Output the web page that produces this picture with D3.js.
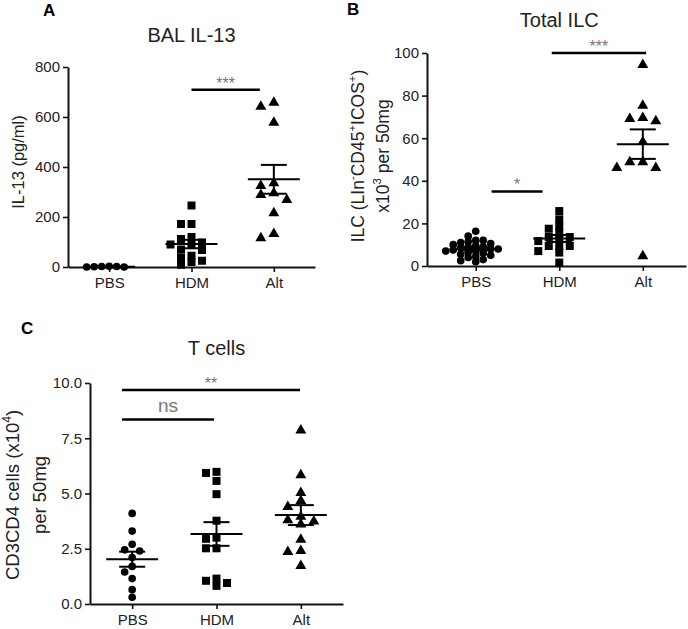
<!DOCTYPE html>
<html>
<head>
<meta charset="utf-8">
<style>
  body { margin: 0; background: #fff; }
  svg text { font-family: "Liberation Sans", Arial, sans-serif; }
</style>
</head>
<body>
<div id="fig"></div>
<script src="https://cdn.jsdelivr.net/npm/d3@7/dist/d3.min.js"></script>
<script>
// groups on every x axis
var categories = ["PBS", "HDM", "Alt"];

// A - BAL IL-13 (pg/ml)
var il13PBS = [2, 0, 3, 1, 0, 2];
var il13HDM = [246, 172, 172, 120, 112, 98, 92, 90, 70, 68, 45, 38, 25, 20, 9];
var il13Alt = [658, 642, 578, 336, 325, 296, 289, 269, 216, 133, 116];
var il13Ticks = [0, 200, 400, 600, 800];

// B - total ILC (x10^3 per 50mg)
var ilcPBS = [16.3, 14, 12, 12, 11.5, 11, 10.5, 10, 9.5, 9, 9, 8.5, 8, 8, 7.5, 7, 7, 6.5, 6, 5.5, 5, 4.5, 4, 3, 2.5, 2];
var ilcHDM = [25.8, 21.9, 18.8, 17.5, 15.6, 13.6, 13.6, 12.5, 11.7, 9.4, 9.4, 9.4, 7, 6.3, 1.6];
var ilcAlt = [94.5, 75.3, 69.6, 69.1, 68, 58.3, 48.8, 48.8, 46.1, 46.1, 4.7];
var ilcTicks = [0, 20, 40, 60, 80, 100];

// C - CD3CD4 T cells (x10^4 per 50mg)
var tcellPBS = [4.1, 3.3, 2.7, 2.45, 2.4, 2.1, 1.7, 1.45, 1.15, 0.65, 0.3];
var tcellHDM = [5.98, 5.93, 5.57, 4.97, 3.77, 3.0, 2.95, 2.52, 2.52, 1.15, 1.05, 0.95, 0.82];
var tcellAlt = [7.86, 5.83, 5.03, 4.67, 4.4, 3.95, 3.8, 3.74, 3.6, 2.92, 2.41, 2.36, 1.73];
var tcellTicks = [0, 2.5, 5, 7.5, 10];

// significance bars, ends given in group units (0 = PBS, 1 = HDM, 2 = Alt)
var il13Sig = [{from: 1, to: 1.83, value: 709, label: "***"}];
var ilcSig = [{from: 0.19, to: 0.8, value: 35, label: "*"},
              {from: 0.91, to: 2.04, value: 100, label: "***"}];
var tcellSig = [{from: -0.12, to: 0.97, value: 8.35, label: "ns"},
                {from: -0.12, to: 1.99, value: 9.68, label: "**"}];

var svg = d3.select("#fig").append("svg")
    .attr("width", 688)
    .attr("height", 629);

// one marker type per group, like prism
var markers = [
  {type: d3.symbolCircle, size: 46, step: 7.5},
  {type: d3.symbolSquare, size: 64, step: 10.5},
  {type: d3.symbolTriangle, size: 52, step: 13}
];

// greedy column spread: put each point in the centre column unless it overlaps
function spread(values, y, h) {
  var placed = [];
  var out = [];
  var order = d3.range(values.length).sort(function(a, b) { return values[b] - values[a]; });
  order.forEach(function(i) {
    var py = y(values[i]);
    for (var k = 0; k < 30; k++) {
      var col = k == 0 ? 0 : (k % 2 ? -Math.ceil(k / 2) : Math.ceil(k / 2));
      var hit = placed.some(function(p) { return p.col == col && Math.abs(p.y - py) < h; });
      if (!hit) {
        placed.push({col: col, y: py});
        out.push({col: col, y: py});
        break;
      }
    }
  });
  return out;
}

function addLabel(g, x, y, parts, fsize) {
  var t = g.append("text")
      .attr("transform", "translate(" + x + "," + y + ") rotate(-90)")
      .attr("text-anchor", "middle")
      .attr("dy", "0.35em")
      .style("font-size", fsize + "px")
      .attr("fill", "#222");
  var up = false;
  parts.forEach(function(p) {
    var sup = p[1] == 1;
    var s = t.append("tspan").text(p[0]);
    if (sup) { s.style("font-size", (fsize * 0.65) + "px").attr("dy", -fsize * 0.45); up = true; }
    else if (up) { s.attr("dy", fsize * 0.45); up = false; }
  });
}

function drawPanel(p) {
  var g = svg.append("g");

  var x = d3.scalePoint()
      .domain(categories)
      .range([p.left, p.right])
      .padding(p.pad)
      .align(p.align);

  var y = d3.scaleLinear()
      .domain([0, p.ticks[p.ticks.length - 1]])
      .range([p.bottom, p.top]);

  var xg = function(i) { return x(categories[0]) + i * x.step(); };

  // axes
  var ya = g.append("g")
      .attr("transform", "translate(" + p.left + ",0)")
      .call(d3.axisLeft(y).tickValues(p.ticks).tickFormat(p.fmt).tickSize(5).tickSizeOuter(0).tickPadding(3));
  var xa = g.append("g")
      .attr("transform", "translate(0," + p.bottom + ")")
      .call(d3.axisBottom(x).tickSize(5).tickSizeOuter(0).tickPadding(5));
  [ya, xa].forEach(function(a) {
    a.select(".domain").attr("stroke", "#111").attr("stroke-width", 2);
    a.selectAll(".tick line").attr("stroke", "#111").attr("stroke-width", 1.6);
    a.selectAll(".tick text")
        .style("font-size", "15px")
        .style("font-family", "Liberation Sans, Arial, sans-serif")
        .attr("fill", "#222");
  });

  // points
  p.groups.forEach(function(vals, gi) {
    var m = markers[gi];
    var cx = x(categories[gi]);
    var pts = spread(vals, y, p.overlap[gi]);
    g.append("g").selectAll("path")
        .data(pts)
        .enter().append("path")
          .attr("d", d3.symbol().type(m.type).size(m.size))
          .attr("transform", function(d) { return "translate(" + (cx + d.col * m.step) + "," + d.y + ")"; })
          .attr("fill", "#000");

    // mean +/- sem
    var mean = d3.mean(vals);
    var sem = d3.deviation(vals) / Math.sqrt(vals.length);
    var lines = [
      [cx - 26, y(mean), cx + 26, y(mean)],
      [cx - 13, y(mean + sem), cx + 13, y(mean + sem)],
      [cx - 13, y(mean - sem), cx + 13, y(mean - sem)],
      [cx, y(mean + sem), cx, y(mean - sem)]
    ];
    g.append("g").selectAll("line")
        .data(lines)
        .enter().append("line")
          .attr("x1", function(d) { return d[0]; })
          .attr("y1", function(d) { return d[1]; })
          .attr("x2", function(d) { return d[2]; })
          .attr("y2", function(d) { return d[3]; })
          .attr("stroke", "#000")
          .attr("stroke-width", 2);
  });

  // significance
  p.sig.forEach(function(s) {
    g.append("line")
        .attr("x1", xg(s.from))
        .attr("x2", xg(s.to))
        .attr("y1", y(s.value))
        .attr("y2", y(s.value))
        .attr("stroke", "#000")
        .attr("stroke-width", 2.5);
    g.append("text")
        .attr("x", (xg(s.from) + xg(s.to)) / 2)
        .attr("y", y(s.value) - (s.label == "ns" ? 7 : 1))
        .attr("text-anchor", "middle")
        .style("font-size", s.label == "ns" ? "19px" : "16px")
        .attr("fill", "#777")
        .text(s.label);
  });

  // title, panel letter, y label
  g.append("text")
      .attr("x", x(categories[1]))
      .attr("y", p.titleY)
      .attr("text-anchor", "middle")
      .style("font-size", "20px")
      .attr("fill", "#222")
      .text(p.title);

  g.append("text")
      .attr("x", p.letter[1])
      .attr("y", p.letter[2])
      .style("font-size", "17px")
      .style("font-weight", "bold")
      .attr("fill", "#000")
      .text(p.letter[0]);

  p.ylab.forEach(function(l, i) {
    addLabel(g, p.ylabX[i], p.ylabY, l, p.ylabSize);
  });
}

drawPanel({
  letter: ["A", 43, 16], title: "BAL IL-13", titleY: 42,
  left: 68, right: 315, top: 67, bottom: 267, pad: 0.5, align: 0.5,
  ticks: il13Ticks, fmt: d3.format("d"),
  groups: [il13PBS, il13HDM, il13Alt], overlap: [7, 6, 8], sig: il13Sig,
  ylab: [[["IL-13 (pg/ml)", 0]]], ylabX: [18], ylabY: 162, ylabSize: 16.5
});

drawPanel({
  letter: ["B", 347, 15], title: "Total ILC", titleY: 27,
  left: 427, right: 686, top: 53, bottom: 266, pad: 0.55, align: 0.53,
  ticks: ilcTicks, fmt: d3.format("d"),
  groups: [ilcPBS, ilcHDM, ilcAlt], overlap: [5, 6, 8], sig: ilcSig,
  ylab: [[["ILC (LIn", 0], ["-", 1], ["CD45", 0], ["+", 1], ["ICOS", 0], ["+", 1], [")", 0]],
         [["x10", 0], ["3", 1], [" per 50mg", 0]]],
  ylabX: [358, 383], ylabY: 156, ylabSize: 17.5
});

drawPanel({
  letter: ["C", 21, 334], title: "T cells", titleY: 355,
  left: 90, right: 343, top: 383, bottom: 604, pad: 0.5, align: 0.5,
  ticks: tcellTicks, fmt: d3.format(".1f"),
  groups: [tcellPBS, tcellHDM, tcellAlt], overlap: [7, 7, 7], sig: tcellSig,
  ylab: [[["CD3CD4 cells (x10", 0], ["4", 1], [")", 0]],
         [["per 50mg", 0]]],
  ylabX: [13, 40], ylabY: 495, ylabSize: 18.5
});
</script>
</body>
</html>
